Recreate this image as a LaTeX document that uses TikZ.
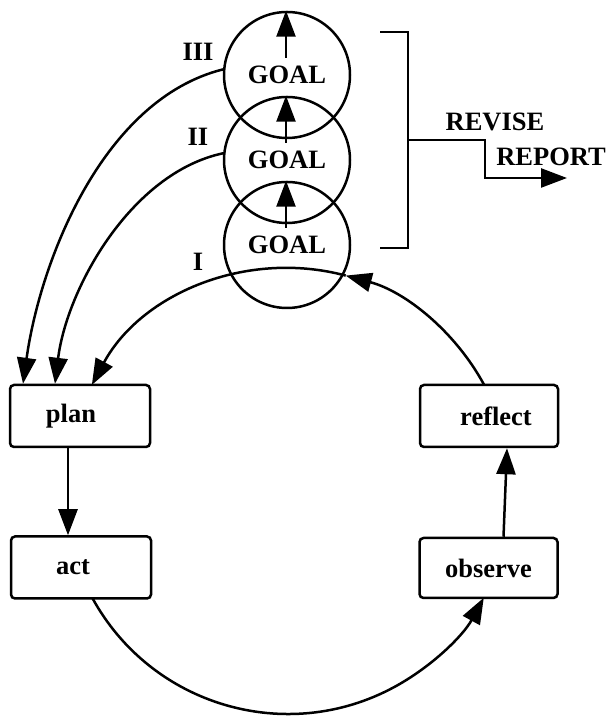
\documentclass[tikz,border=0pt]{standalone}
\usepackage{fontspec}
\setmainfont{Liberation Serif}
\usetikzlibrary{arrows.meta}
\begin{document}
\begin{tikzpicture}[x=1pt,y=1pt,
  every node/.style={font=\fontsize{26.5}{30}\selectfont\bfseries},
  ln/.style={line width=2.5pt},
  arr/.style={ln,-{Triangle[length=26pt,width=19pt]}},
  box/.style={draw,ln,rounded corners=4pt,minimum width=140pt,minimum height=62pt,inner sep=0pt},
  goal/.style={draw,ln,circle,minimum size=126pt,inner sep=0pt}]
\useasboundingbox (0,0) rectangle (608,717);
% cycle boxes
\node[box] (plan) at (80,301) {plan\hspace*{18pt}};
\node[box] (act) at (81,149.5) {act\hspace*{16pt}};
\node[box,minimum width=138pt] (reflect) at (489,301) {\hspace*{14pt}reflect};
\node[box,minimum width=138pt,minimum height=60pt] (observe) at (488.5,149) {observe};
% goal circles
\node[goal] (g1) at (287,642) {GOAL};
\node[goal] (g2) at (287,557) {GOAL};
\node[goal] (g3) at (287,472) {GOAL};
\foreach \g in {g1,g2,g3}
  \draw[arr] ([xshift=-1pt,yshift=17pt]\g.center) -- ([xshift=-1pt]\g.north);
% labels
\node (l3) at (198,665) {III};
\node (l2) at (198,580) {II};
\node (l1) at (198,455) {I};
% big cycle
\coordinate (cyc) at (288,226);
\coordinate (rf) at ([shift={(28.4:223)}]cyc);
\coordinate (mid) at ([shift={(75:223)}]cyc);
\coordinate (ac) at ([shift={(208.6:223)}]cyc);
\draw[arr] (rf) arc[start angle=28.4,end angle=75,radius=223];
\draw[arr] (mid) arc[start angle=75,end angle=151.6,radius=223];
\draw[arr] (ac) arc[start angle=208.6,end angle=331.4,radius=223];
\draw[arr] ([xshift=-12pt]plan.south) -- ([xshift=-13pt]act.north);
\draw[arr] ([xshift=15pt]observe.north) -- ([xshift=18pt]reflect.south);
% goal feedback curves
\draw[arr] (g1.175) to[out=194,in=82,looseness=0.85] ([xshift=-57pt]plan.north);
\draw[arr] (g2.174) to[out=192,in=83,looseness=0.85] ([xshift=-25pt]plan.north);
% bracket
\draw[ln] (380,685) -- (408,685) -- (408,469) -- (380,469);
\coordinate (bm) at (408,577);
\draw[arr] (bm) -- (485,577) -- (485,539) -- (567,539);
\node (revise) at (495,595) {REVISE};
\node (report) at (551,560) {REPORT};
\end{tikzpicture}
\end{document}
